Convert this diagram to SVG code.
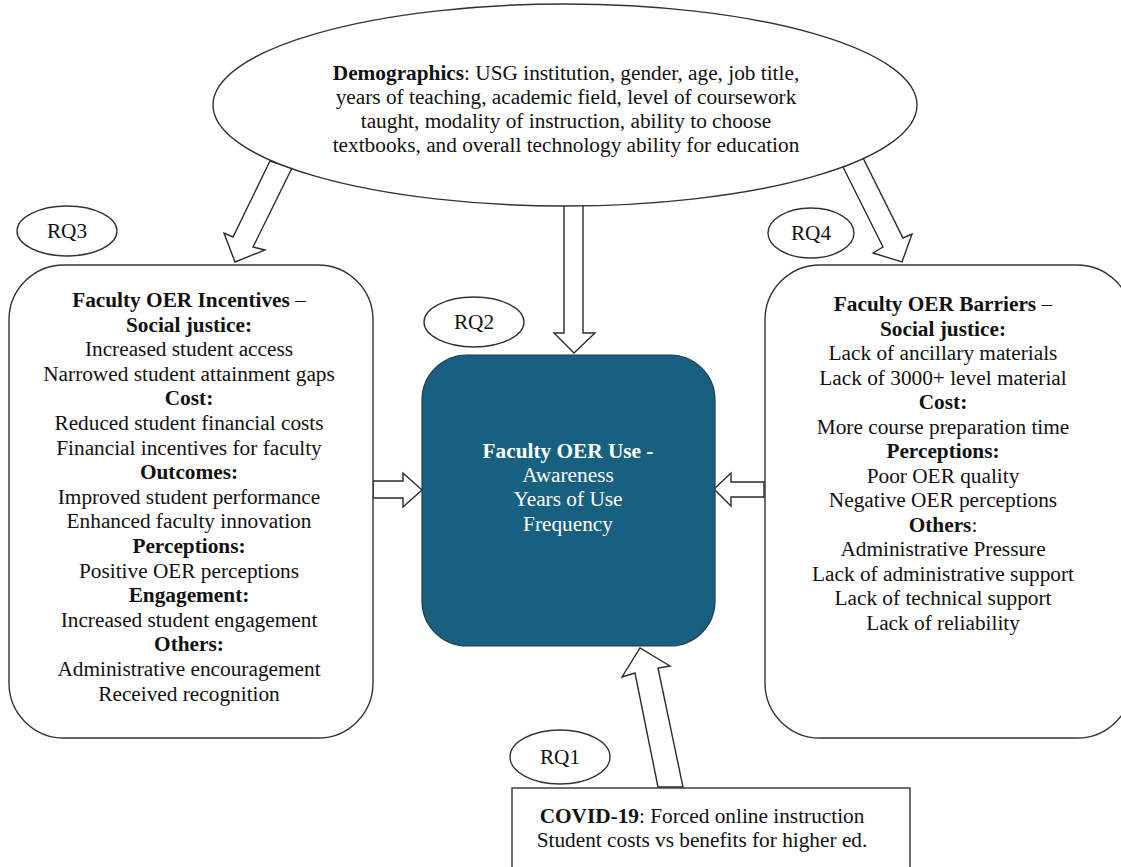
<svg xmlns="http://www.w3.org/2000/svg" width="1121" height="867" viewBox="0 0 1121 867">
<style>
.shape{fill:#fff;stroke:#333;stroke-width:1.4}
.arrow{fill:#fff;stroke:#2b2b2b;stroke-width:1.4;stroke-linejoin:miter}
text{font-family:"Liberation Serif","Times New Roman",serif;font-size:21.3px;fill:#111;text-anchor:middle}
.b{font-weight:bold}
.w{fill:#fff}
</style>
<rect width="1121" height="867" fill="#fff"/>
<g id="connectors">
<polygon class="arrow" points="270,161 233,237 224,233 235,262 265,250 253,247 292,168"/>
<polygon class="arrow" points="843,167 883,247 873,253 902,262 912,234 903,238 863,158"/>
<polygon class="arrow" points="564,204 564,333 554,333 574,353 595,333 583,333 583,204"/>
<polygon class="arrow" points="373,481 403,481 403,473 422,490 403,507 403,498 373,498"/>
<polygon class="arrow" points="764,482 731,482 731,473 714,489 731,506 731,497 764,497"/>
<polygon class="arrow" points="658,787 635,673 622,677 640,648 670,666 658,668 683,787"/>
</g>
<g id="demographics">
<ellipse class="shape" cx="565" cy="105" rx="352" ry="101"/>
<text x="566" y="80"><tspan class="b">Demographics</tspan>: USG institution, gender, age, job title,</text>
<text x="566" y="104">years of teaching, academic field, level of coursework</text>
<text x="566" y="128">taught, modality of instruction, ability to choose</text>
<text x="566" y="152">textbooks, and overall technology ability for education</text>
</g>
<g id="rq3">
<ellipse class="shape" cx="67" cy="231" rx="50" ry="25"/>
<text x="67" y="238">RQ3</text>
</g>
<g id="rq4">
<ellipse class="shape" cx="811" cy="233" rx="43" ry="25"/>
<text x="811" y="240">RQ4</text>
</g>
<g id="rq2">
<ellipse class="shape" cx="474" cy="322" rx="50" ry="25"/>
<text x="474" y="329">RQ2</text>
</g>
<g id="rq1">
<ellipse class="shape" cx="560" cy="757" rx="50" ry="27"/>
<text x="560" y="764">RQ1</text>
</g>
<g id="incentives">
<rect class="shape" x="9" y="265" width="364" height="473" rx="55" ry="55"/>
<text x="189" y="307" class="b">Faculty OER Incentives <tspan font-weight="normal">–</tspan></text>
<text x="189" y="331.6" class="b">Social justice:</text>
<text x="189" y="356.2">Increased student access</text>
<text x="189" y="380.8">Narrowed student attainment gaps</text>
<text x="189" y="405.4" class="b">Cost:</text>
<text x="189" y="430">Reduced student financial costs</text>
<text x="189" y="454.6">Financial incentives for faculty</text>
<text x="189" y="479.2" class="b">Outcomes:</text>
<text x="189" y="503.8">Improved student performance</text>
<text x="189" y="528.4">Enhanced faculty innovation</text>
<text x="189" y="553" class="b">Perceptions:</text>
<text x="189" y="577.6">Positive OER perceptions</text>
<text x="189" y="602.2" class="b">Engagement:</text>
<text x="189" y="626.8">Increased student engagement</text>
<text x="189" y="651.4" class="b">Others:</text>
<text x="189" y="676">Administrative encouragement</text>
<text x="189" y="700.6">Received recognition</text>
</g>
<g id="barriers">
<rect class="shape" x="765" y="265" width="367" height="473" rx="55" ry="55"/>
<text x="943" y="311" class="b">Faculty OER Barriers <tspan font-weight="normal">–</tspan></text>
<text x="943" y="335.5" class="b">Social justice:</text>
<text x="943" y="360">Lack of ancillary materials</text>
<text x="943" y="384.5">Lack of 3000+ level material</text>
<text x="943" y="409" class="b">Cost:</text>
<text x="943" y="433.5">More course preparation time</text>
<text x="943" y="458" class="b">Perceptions:</text>
<text x="943" y="482.5">Poor OER quality</text>
<text x="943" y="507">Negative OER perceptions</text>
<text x="943" y="531.5"><tspan class="b">Others</tspan>:</text>
<text x="943" y="556">Administrative Pressure</text>
<text x="943" y="580.5">Lack of administrative support</text>
<text x="943" y="605">Lack of technical support</text>
<text x="943" y="629.5">Lack of reliability</text>
</g>
<g id="oer-use">
<rect x="422" y="355" width="293" height="291" rx="45" ry="45" fill="#17607f" stroke="#1f3f4f" stroke-width="1.2"/>
<text x="568" y="458" class="b w">Faculty OER Use -</text>
<text x="568" y="482" class="w">Awareness</text>
<text x="568" y="506" class="w">Years of Use</text>
<text x="568" y="531" class="w">Frequency</text>
</g>
<g id="covid">
<rect class="shape" x="512" y="788" width="398" height="90"/>
<text x="702" y="823"><tspan class="b">COVID-19</tspan>: Forced online instruction</text>
<text x="702" y="847">Student costs vs benefits for higher ed.</text>
</g>
</svg>
